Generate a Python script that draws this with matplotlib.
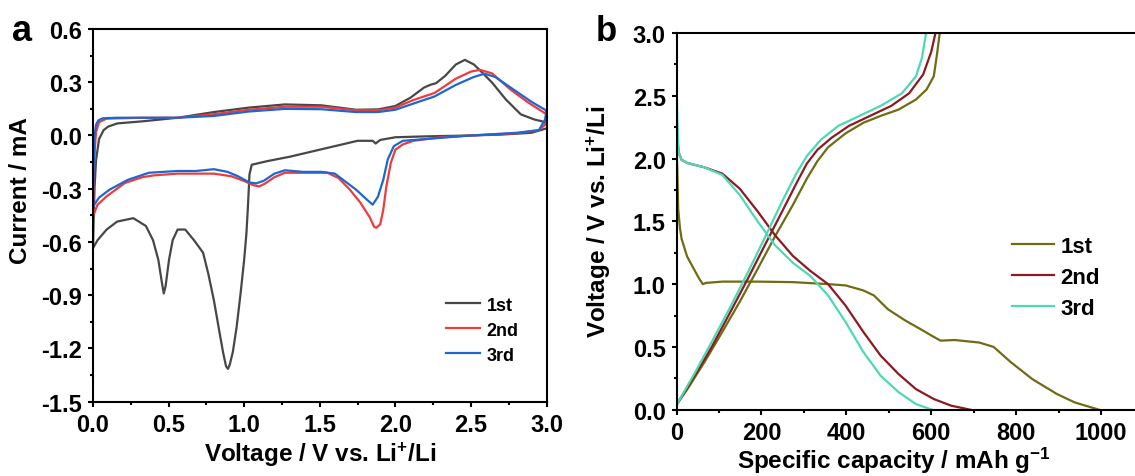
import matplotlib
matplotlib.use("Agg")
import matplotlib.pyplot as plt
from matplotlib.ticker import MultipleLocator, FuncFormatter

# ---------------- data: panel a (CV) ----------------
cv1_voltage = [3.0, 2.9, 2.7, 2.5, 2.2, 2.0, 1.9, 1.87, 1.85, 1.75, 1.6, 1.5, 1.3, 1.15, 1.05,
               1.035, 1.025, 1.015, 1.0, 0.975, 0.95, 0.925, 0.905, 0.893, 0.88, 0.86, 0.835,
               0.80, 0.763, 0.728, 0.668, 0.61, 0.56, 0.527, 0.503, 0.48, 0.468, 0.456, 0.432,
               0.397, 0.35, 0.267, 0.16, 0.09, 0.03, 0.0,
               0.005, 0.01, 0.02, 0.04, 0.07, 0.1, 0.16, 0.33, 0.56, 0.80, 1.03, 1.27, 1.51,
               1.63, 1.74, 1.885, 2.0, 2.1, 2.19, 2.23, 2.27, 2.33, 2.40, 2.46, 2.52, 2.58,
               2.64, 2.73, 2.83, 2.92, 2.97, 3.0]
cv1_current = [0.04, 0.015, 0.005, 0.0, -0.005, -0.01, -0.025, -0.045, -0.03, -0.03, -0.06, -0.08,
               -0.12, -0.145, -0.165, -0.22, -0.40, -0.55, -0.70, -0.90, -1.08, -1.22, -1.29,
               -1.315, -1.30, -1.22, -1.10, -0.93, -0.78, -0.66, -0.59, -0.53, -0.53, -0.59,
               -0.70, -0.85, -0.89, -0.83, -0.70, -0.59, -0.51, -0.466, -0.485, -0.53, -0.59,
               -0.635,
               -0.45, -0.30, -0.14, -0.02, 0.03, 0.05, 0.068, 0.08, 0.10, 0.132, 0.157, 0.175,
               0.17, 0.157, 0.145, 0.147, 0.166, 0.213, 0.27, 0.285, 0.295, 0.336, 0.40, 0.426,
               0.40, 0.35, 0.298, 0.204, 0.119, 0.09, 0.08, 0.06]

cv2_voltage = [3.0, 2.99, 2.95, 2.8, 2.5, 2.3, 2.12, 2.05, 2.0, 1.97, 1.94, 1.92, 1.90, 1.875, 1.86,
               1.83, 1.77, 1.70, 1.625, 1.55, 1.46, 1.365, 1.27, 1.20, 1.14, 1.10, 1.06, 1.01,
               0.917, 0.80, 0.56, 0.40, 0.326, 0.21, 0.09, 0.03, 0.0,
               0.005, 0.012, 0.02, 0.04, 0.09, 0.33, 0.56, 0.80, 1.03, 1.27, 1.51, 1.74, 1.885,
               2.0, 2.12, 2.26, 2.40, 2.5, 2.56, 2.64, 2.76, 2.88, 3.0]
cv2_current = [0.12, 0.06, 0.03, 0.012, 0.0, -0.01, -0.03, -0.05, -0.08, -0.155, -0.29, -0.42,
               -0.50, -0.52, -0.515, -0.46, -0.38, -0.306, -0.24, -0.21, -0.21, -0.21, -0.21,
               -0.235, -0.27, -0.287, -0.28, -0.26, -0.23, -0.215, -0.215, -0.225, -0.235,
               -0.268, -0.343, -0.39, -0.455,
               -0.25, -0.08, 0.02, 0.075, 0.095, 0.10, 0.10, 0.12, 0.145, 0.162, 0.162, 0.142,
               0.142, 0.157, 0.20, 0.24, 0.32, 0.36, 0.37, 0.35, 0.26, 0.185, 0.12]

cv3_voltage = [3.0, 2.99, 2.95, 2.8, 2.5, 2.2, 2.05, 1.99, 1.95, 1.92, 1.885, 1.85, 1.81, 1.74,
               1.67, 1.60, 1.51, 1.39, 1.27, 1.20, 1.13, 1.08, 1.035, 0.96, 0.89, 0.80, 0.68,
               0.56, 0.37, 0.23, 0.11, 0.04, 0.0,
               0.004, 0.01, 0.02, 0.035, 0.065, 0.16, 0.56, 0.80, 1.03, 1.27, 1.51, 1.74, 1.885,
               2.0, 2.12, 2.26, 2.40, 2.52, 2.59, 2.66, 2.78, 2.90, 3.0]
cv3_current = [0.14, 0.09, 0.03, 0.015, 0.0, -0.02, -0.03, -0.06, -0.135, -0.25, -0.345, -0.39,
               -0.36, -0.305, -0.26, -0.215, -0.205, -0.205, -0.196, -0.215, -0.255, -0.27,
               -0.265, -0.23, -0.205, -0.19, -0.20, -0.20, -0.21, -0.25, -0.305, -0.35, -0.40,
               -0.20, 0.0, 0.06, 0.085, 0.097, 0.10, 0.10, 0.11, 0.135, 0.15, 0.148, 0.132,
               0.132, 0.145, 0.18, 0.22, 0.285, 0.33, 0.348, 0.33, 0.26, 0.19, 0.14]

cv_labels = ["1st", "2nd", "3rd"]
cv_colors = ["#474747", "#EE3B3B", "#1F66D1"]

# ---------------- data: panel b (charge/discharge) ----------------
dis1_cap = [0, 2, 4, 8, 12, 25, 41, 54, 62, 70, 108, 191, 274, 357, 398, 440, 465, 498, 539,
            573, 606, 622, 655, 713, 747, 788, 838, 896, 938, 995]
dis1_volt = [2.1, 1.9, 1.6, 1.45, 1.36, 1.22, 1.12, 1.04, 1.0, 1.01, 1.02, 1.02, 1.016, 1.0,
             0.99, 0.95, 0.91, 0.80, 0.71, 0.645, 0.58, 0.55, 0.555, 0.535, 0.5, 0.377, 0.244,
             0.125, 0.058, 0.0]
cha1_cap = [2, 25, 66, 108, 149, 191, 232, 274, 307, 332, 357, 398, 440, 481, 523, 564, 589,
            606, 614, 620]
cha1_volt = [0.05, 0.16, 0.38, 0.62, 0.86, 1.12, 1.38, 1.63, 1.84, 1.98, 2.09, 2.2, 2.285,
             2.34, 2.39, 2.47, 2.55, 2.655, 2.84, 3.0]

dis2_cap = [0, 5, 12, 25, 66, 108, 149, 191, 232, 274, 315, 357, 398, 440, 481, 523, 564, 606,
            647, 692]
dis2_volt = [2.25, 2.05, 1.99, 1.965, 1.93, 1.88, 1.76, 1.58, 1.39, 1.225, 1.106, 1.0, 0.83,
             0.62, 0.43, 0.284, 0.164, 0.085, 0.032, 0.0]
cha2_cap = [2, 41, 83, 124, 166, 208, 249, 282, 307, 332, 365, 406, 456, 506, 548, 581, 600, 610]
cha2_volt = [0.05, 0.26, 0.5, 0.76, 1.03, 1.31, 1.58, 1.80, 1.96, 2.07, 2.165, 2.26, 2.34, 2.42,
             2.52, 2.67, 2.85, 3.0]

dis3_cap = [0, 2, 5, 12, 25, 66, 108, 149, 191, 232, 274, 315, 357, 398, 440, 481, 523, 564, 602]
dis3_volt = [2.63, 2.3, 2.05, 1.99, 1.965, 1.93, 1.87, 1.71, 1.50, 1.31, 1.17, 1.066, 0.91, 0.70,
             0.46, 0.27, 0.14, 0.045, 0.0]
cha3_cap = [2, 41, 83, 124, 166, 208, 249, 282, 307, 340, 381, 431, 481, 531, 564, 578, 588]
cha3_volt = [0.05, 0.28, 0.54, 0.80, 1.08, 1.37, 1.66, 1.88, 2.02, 2.15, 2.26, 2.34, 2.42, 2.52,
             2.655, 2.8, 3.0]

gcd_labels = ["1st", "2nd", "3rd"]
gcd_colors = ["#6E6C14", "#8C1A22", "#4DD9B4"]

# ---------------- style ----------------
plt.rcParams["font.family"] = ["Liberation Sans", "DejaVu Sans"]
plt.rcParams["font.weight"] = "bold"
plt.rcParams["axes.unicode_minus"] = False
plt.rcParams["mathtext.fontset"] = "custom"
plt.rcParams["mathtext.rm"] = "Liberation Sans:bold"
plt.rcParams["mathtext.bf"] = "Liberation Sans:bold"
plt.rcParams["mathtext.default"] = "bf"

W, H = 1135, 477
fig = plt.figure(figsize=(W / 100, H / 100), dpi=100)

TICK_FS = 17
LABEL_FS = 17.5
LW = 1.6

one_dec = FuncFormatter(lambda x, pos: f"{round(x, 1) + 0.0:.1f}")


def style_axes(ax):
    for s in ax.spines.values():
        s.set_linewidth(1.5)
    ax.tick_params(which="both", direction="out", width=1.5, labelsize=TICK_FS,
                   top=False, right=False)
    ax.tick_params(which="major", length=3.8, pad=4)
    ax.tick_params(which="minor", length=2.2)
    for lab in ax.get_xticklabels() + ax.get_yticklabels():
        lab.set_fontweight("bold")


# panel a
axa = fig.add_axes([93 / W, 1 - 402.7 / H, 453.5 / W, 372.7 / H])
for v, i, lab, c in zip([cv1_voltage, cv2_voltage, cv3_voltage],
                        [cv1_current, cv2_current, cv3_current], cv_labels, cv_colors):
    axa.plot(v, i, color=c, lw=LW, label=lab)
axa.set_xlim(0, 3.0)
axa.set_ylim(-1.5, 0.6)
axa.xaxis.set_major_locator(MultipleLocator(0.5))
axa.xaxis.set_minor_locator(MultipleLocator(0.25))
axa.yaxis.set_major_locator(MultipleLocator(0.3))
axa.yaxis.set_minor_locator(MultipleLocator(0.15))
axa.xaxis.set_major_formatter(one_dec)
axa.yaxis.set_major_formatter(one_dec)
style_axes(axa)
axa.set_xlabel(r"Voltage / V vs. Li$^{+}$/Li", fontsize=LABEL_FS, fontweight="bold", labelpad=3)
axa.set_ylabel("Current / mA", fontsize=LABEL_FS, fontweight="bold")
axa.yaxis.set_label_coords(-0.135, 0.568)
leg = axa.legend(loc="center left", bbox_to_anchor=(0.778, 0.192), frameon=False,
                 fontsize=13, handlelength=1.9, handletextpad=0.35, labelspacing=0.45,
                 borderpad=0, borderaxespad=0)
for t in leg.get_texts():
    t.set_fontweight("bold")
fig.text(12 / W, 1 - 41 / H, "a", fontsize=26, fontweight="bold", ha="left", va="baseline")

# panel b
axb = fig.add_axes([676.5 / W, 1 - 410.7 / H, 467 / W, 376.7 / H])
for caps, volts, lab, c in zip([(dis1_cap, cha1_cap), (dis2_cap, cha2_cap), (dis3_cap, cha3_cap)],
                               [(dis1_volt, cha1_volt), (dis2_volt, cha2_volt), (dis3_volt, cha3_volt)],
                               gcd_labels, gcd_colors):
    axb.plot(caps[0], volts[0], color=c, lw=LW, label=lab)
    axb.plot(caps[1], volts[1], color=c, lw=LW)
axb.set_xlim(0, 1100)
axb.set_ylim(0, 3.0)
axb.xaxis.set_major_locator(MultipleLocator(200))
axb.xaxis.set_minor_locator(MultipleLocator(100))
axb.yaxis.set_major_locator(MultipleLocator(0.5))
axb.yaxis.set_minor_locator(MultipleLocator(0.25))
axb.yaxis.set_major_formatter(one_dec)
style_axes(axb)
axb.spines["right"].set_visible(False)
axb.set_xlabel(r"Specific capacity / mAh g$^{-1}$", fontsize=LABEL_FS, fontweight="bold")
axb.xaxis.set_label_coords(0.466, -0.093)
axb.set_ylabel(r"Voltage / V vs. Li$^{+}$/Li", fontsize=LABEL_FS, fontweight="bold")
axb.yaxis.set_label_coords(-0.135, 0.5)
legb = axb.legend(loc="center left", bbox_to_anchor=(0.718, 0.352), frameon=False,
                  fontsize=16, handlelength=1.9, handletextpad=0.3, labelspacing=0.45,
                  borderpad=0, borderaxespad=0)
for t in legb.get_texts():
    t.set_fontweight("bold")
fig.text(596 / W, 1 - 41 / H, "b", fontsize=25, fontweight="bold", ha="left", va="baseline")

fig.savefig("out.png", dpi=100)
